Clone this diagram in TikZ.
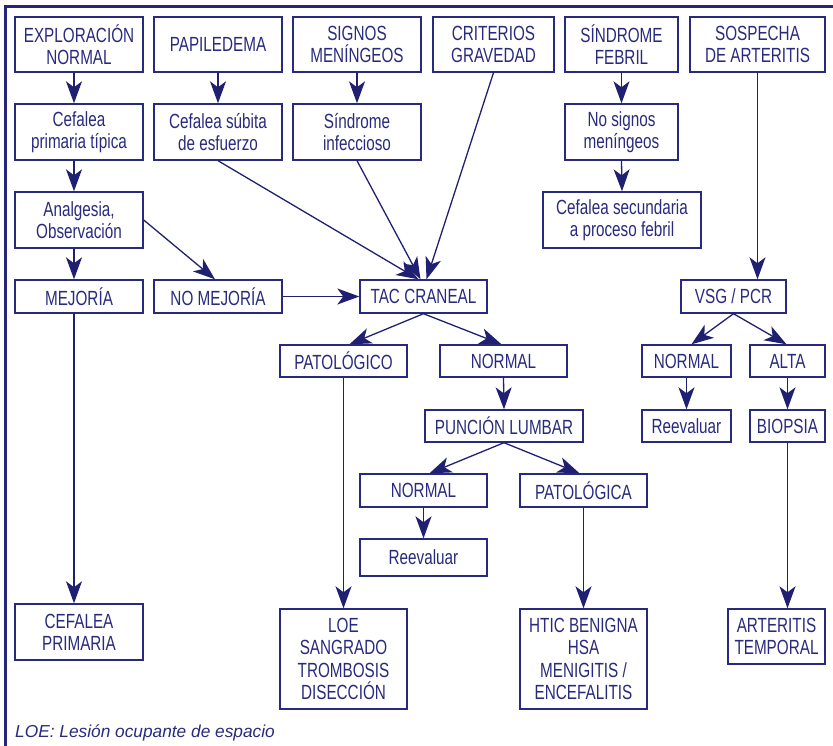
\documentclass[tikz,border=0pt]{standalone}
\usepackage{fontspec}
\setmainfont[FakeStretch=0.745]{Liberation Sans}
\newfontfamily\footfont{Liberation Sans}
\usetikzlibrary{arrows.meta}
\definecolor{navy}{RGB}{40,42,125}
\definecolor{arrc}{RGB}{32,32,115}
\definecolor{framec}{RGB}{38,38,120}
\tikzset{
  box/.style={draw=navy, line width=1.4pt, text=navy, align=center, inner sep=0pt,
    font=\fontsize{20.5}{22.3}\selectfont},
  arr/.style={draw=arrc, line width=1.3pt, -{Stealth[length=22pt,width=16pt,inset=6pt]}},
}
\newcommand\mybox[6]{%
  \node[box, minimum width={(#4-#2)*1pt}, minimum height={(#5-#3)*1pt}]
    (#1) at ({(#2+#4)/2},{(#3+#5)/2}) {#6};}
\begin{document}
\begin{tikzpicture}[x=1pt,y=-1pt]
\useasboundingbox (0,0) rectangle (833,746);
\draw[line width=3pt, framec] (5,746) -- (5,7) -- (833,7);
\mybox{expl}{15}{17}{143}{72}{EXPLORACIÓN\\NORMAL}
\mybox{papi}{154}{17}{282}{72}{PAPILEDEMA}
\mybox{sign}{293}{17}{421}{72}{SIGNOS\\MENÍNGEOS}
\mybox{crit}{433}{17}{554}{72}{CRITERIOS\\GRAVEDAD}
\mybox{febr}{565}{17}{678}{72}{SÍNDROME\\FEBRIL}
\mybox{sosp}{690}{17}{825}{72}{SOSPECHA\\DE ARTERITIS}
\mybox{cpt}{15}{104}{143}{160}{Cefalea\\primaria típica}
\mybox{csub}{154}{104}{282}{160}{Cefalea súbita\\de esfuerzo}
\mybox{sinf}{293}{104}{421}{160}{Síndrome\\infeccioso}
\mybox{nosig}{565}{104}{678}{160}{No signos\\meníngeos}
\mybox{anal}{15}{192}{143}{248}{Analgesia,\\Observación}
\mybox{csec}{543}{192}{701}{248}{Cefalea secundaria\\a proceso febril}
\mybox{mej}{15}{280}{143}{313}{MEJORÍA}
\mybox{nomej}{154}{280}{282}{313}{NO MEJORÍA}
\mybox{tac}{360}{280}{487}{313}{TAC CRANEAL}
\mybox{vsg}{681}{280}{786}{313}{VSG / PCR}
\mybox{patco}{280}{345}{407}{377}{PATOLÓGICO}
\mybox{norma}{440}{345}{567}{377}{NORMAL}
\mybox{normc}{642}{345}{731}{377}{NORMAL}
\mybox{alta}{750}{345}{825}{377}{ALTA}
\mybox{pl}{425}{410}{583}{442}{PUNCIÓN LUMBAR}
\mybox{reevc}{642}{410}{731}{442}{Reevaluar}
\mybox{biop}{750}{410}{825}{442}{BIOPSIA}
\mybox{normb}{360}{474}{487}{507}{NORMAL}
\mybox{patca}{520}{474}{647}{507}{PATOLÓGICA}
\mybox{reevb}{360}{539}{487}{576}{Reevaluar}
\mybox{cprim}{15}{604}{143}{660}{CEFALEA\\PRIMARIA}
\mybox{loe}{280}{609}{407}{709}{LOE\\SANGRADO\\TROMBOSIS\\DISECCIÓN}
\mybox{htic}{520}{609}{647}{709}{HTIC BENIGNA\\HSA\\MENIGITIS /\\ENCEFALITIS}
\mybox{art}{728}{609}{825}{664}{ARTERITIS\\TEMPORAL}
% arrows
\draw[arr] ([xshift=-5pt]expl.south) -- ([xshift=-5pt]cpt.north);
\draw[arr] ([xshift=-5pt]cpt.south) -- ([xshift=-5pt]anal.north);
\draw[arr] ([xshift=-5pt]anal.south) -- ([xshift=-5pt]mej.north);
\draw[arr] ([xshift=-5pt]mej.south) -- ([xshift=-5pt]cprim.north);
\draw[arr] (anal.east) -- ([xshift=-3pt]nomej.north);
\draw[arr] (papi.south) -- (csub.north);
\draw[arr] (sign.south) -- (sinf.north);
\draw[arr] (csub.south) -- ([xshift=-5pt]tac.north);
\draw[arr] (sinf.south) -- ([xshift=-3pt]tac.north);
\draw[arr] (crit.south) -- ([xshift=3pt]tac.north);
\draw[arr] (nomej.east) -- (tac.west);
\draw[arr] (tac.south) -- ([xshift=6pt]patco.north);
\draw[arr] (tac.south) -- ([xshift=-2pt]norma.north);
\draw[arr] (norma.south) -- (pl.north);
\draw[arr] (pl.south) -- ([xshift=6pt]normb.north);
\draw[arr] (pl.south) -- ([xshift=-4pt]patca.north);
\draw[arr] (normb.south) -- (reevb.north);
\draw[arr] (patca.south) -- (htic.north);
\draw[arr] (patco.south) -- (loe.north);
\draw[arr] (febr.south) -- (nosig.north);
\draw[arr] (nosig.south) -- (csec.north);
\draw[arr] (sosp.south) -- (sosp.south |- vsg.north);
\draw[arr] (vsg.south) -- ([xshift=5pt]normc.north);
\draw[arr] (vsg.south) -- ([xshift=-1pt]alta.north);
\draw[arr] (normc.south) -- (reevc.north);
\draw[arr] (alta.south) -- (biop.north);
\draw[arr] (biop.south) -- (biop.south |- art.north);
\node[anchor=base west, inner sep=0pt, text=navy, font=\footfont\itshape\fontsize{17.3}{20}\selectfont]
  (foot) at (15,737) {LOE: Lesión ocupante de espacio};
\end{tikzpicture}
\end{document}
